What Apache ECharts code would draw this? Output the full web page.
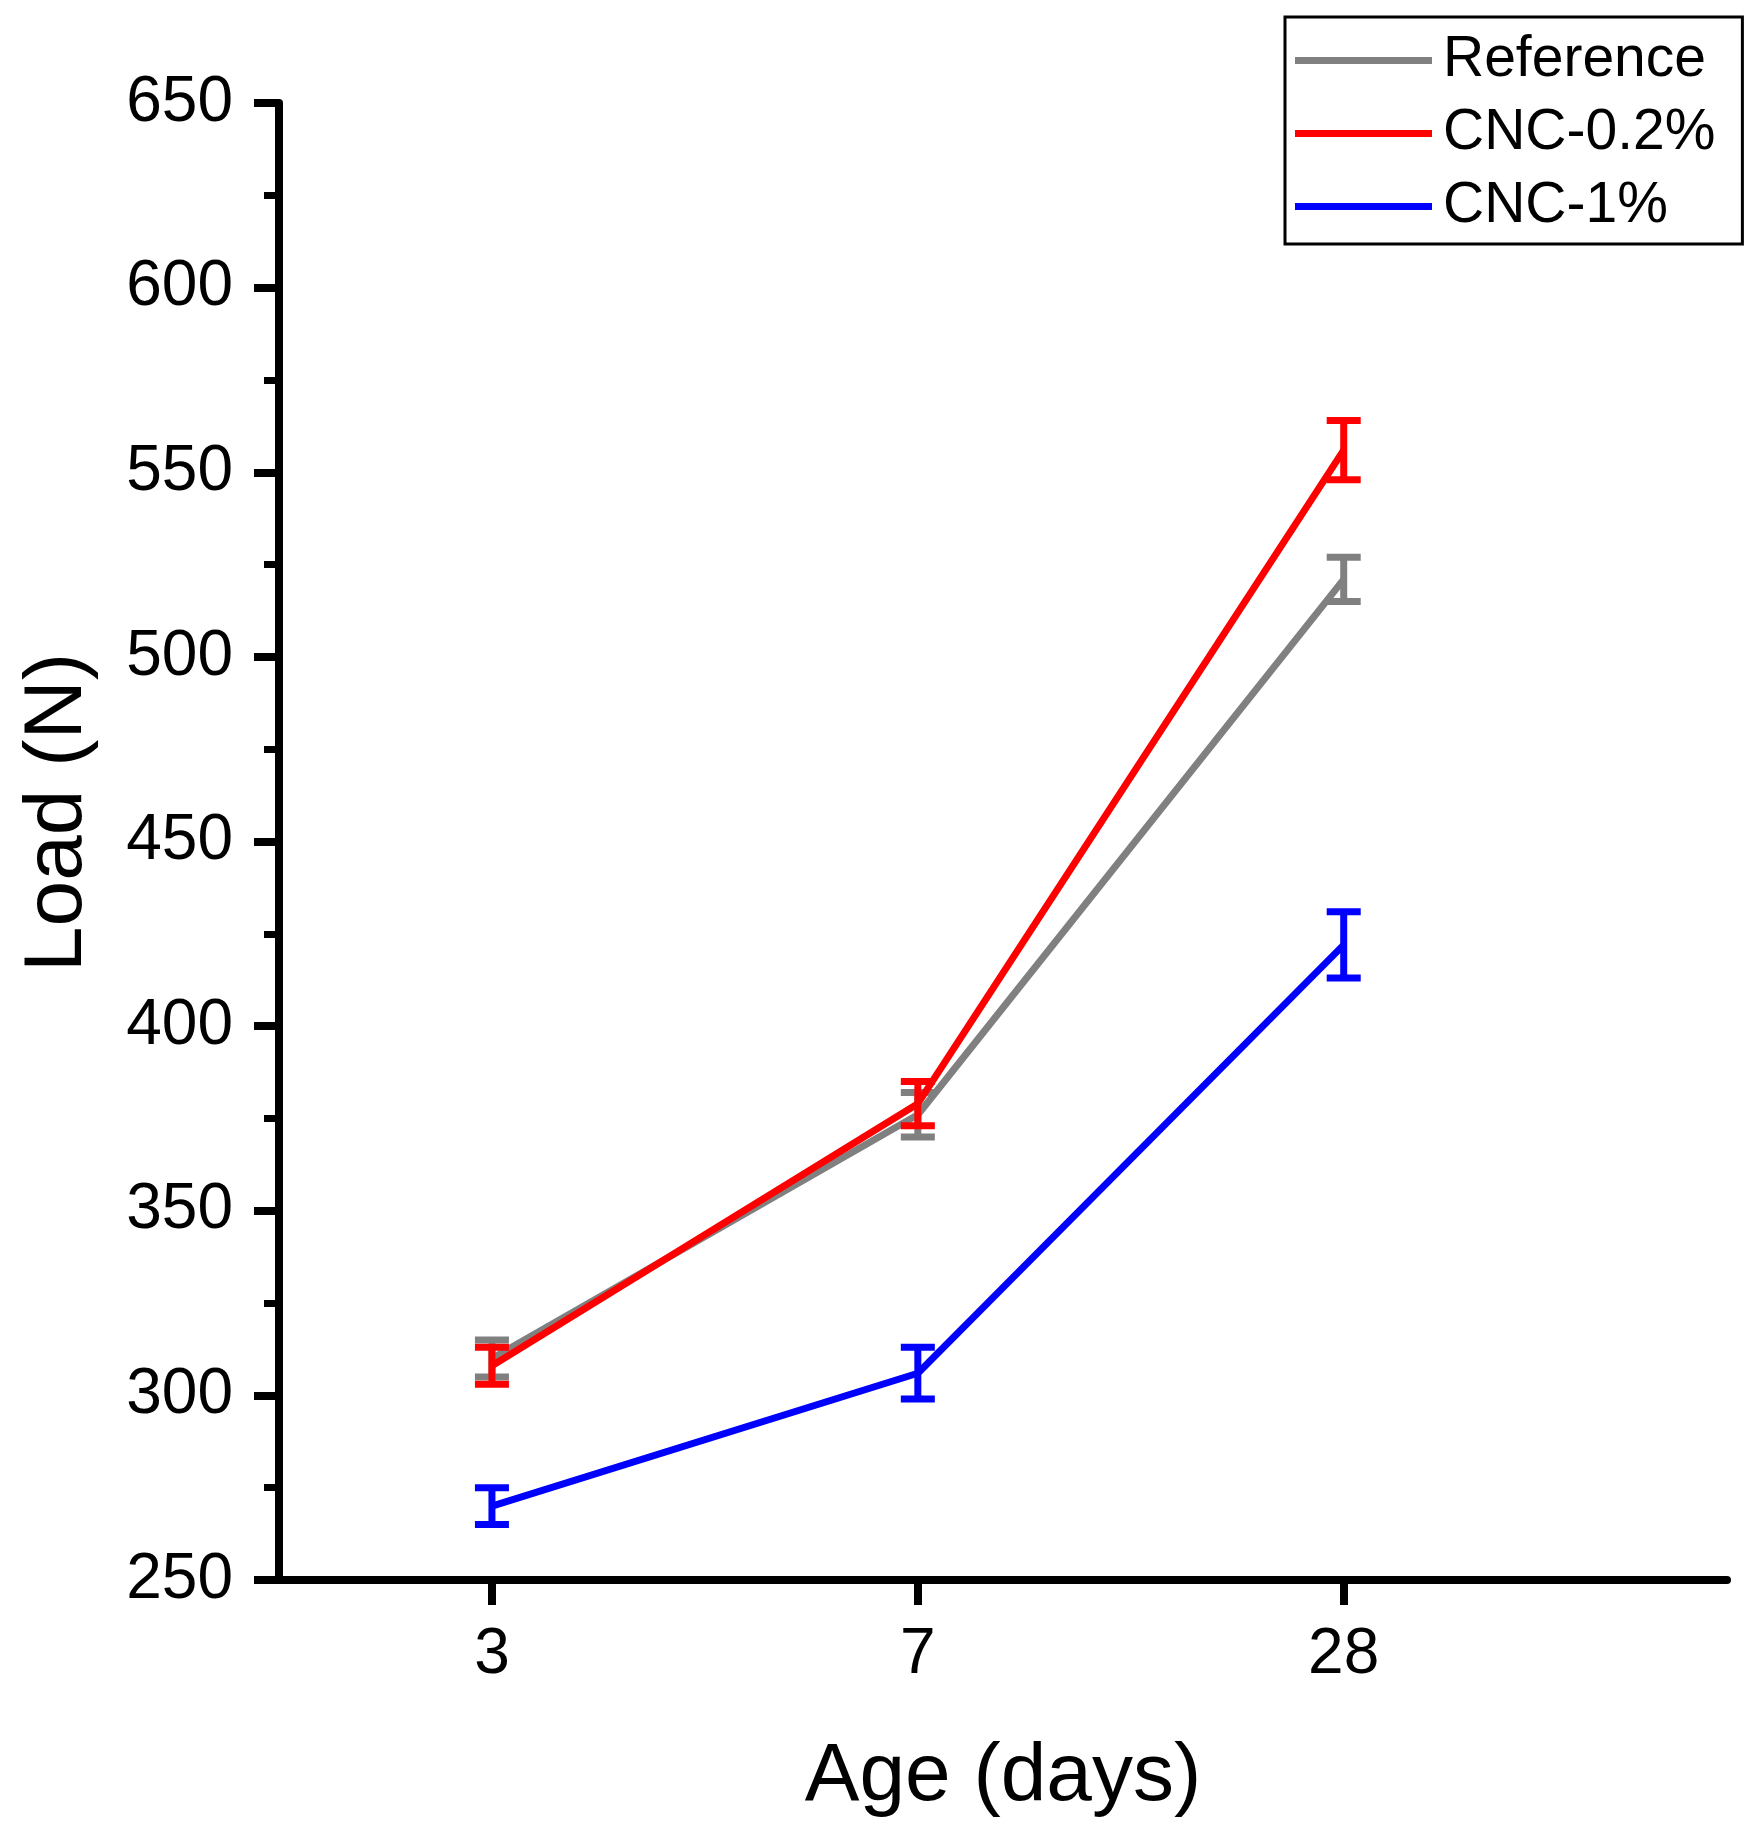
<!DOCTYPE html>
<html>
<head>
<meta charset="utf-8">
<script src="https://cdn.jsdelivr.net/npm/echarts@6/dist/echarts.min.js"></script>
<style>
html,body{margin:0;padding:0;background:#fff;}
#chart{width:1760px;height:1831px;}
</style>
</head>
<body>
<div id="chart"></div>
<script>
const days = ['3', '7', '28'];
const seriesNames = ['Reference', 'CNC-0.2%', 'CNC-1%'];
const refLoad = [310, 376, 521];
const refErr = [5, 6, 6];
const cnc02Load = [308, 379, 556];
const cnc02Err = [5, 6, 8];
const cnc1Load = [270, 306, 422];
const cnc1Err = [5, 7, 9];
const yTicks = [250, 300, 350, 400, 450, 500, 550, 600, 650];

const colors = ['#808080', '#ff0000', '#0000ff'];
const loads = [refLoad, cnc02Load, cnc1Load];
const errs = [refErr, cnc02Err, cnc1Err];
const FONT = 'Liberation Sans, Arial, sans-serif';

const series = [];
loads.forEach((vals, k) => {
  series.push({
    name: seriesNames[k],
    type: 'line',
    data: vals.map((v, i) => [i, v]),
    symbol: 'none',
    lineStyle: { color: colors[k], width: 7 },
    itemStyle: { color: colors[k] },
    z: 2 + k * 2
  });
  series.push({
    name: seriesNames[k] + ' err',
    type: 'custom',
    data: vals.map((v, i) => [i, v, v - errs[k][i], v + errs[k][i]]),
    z: 3 + k * 2,
    renderItem: function (params, api) {
      const x = api.value(0);
      const lo = api.coord([x, api.value(2)]);
      const hi = api.coord([x, api.value(3)]);
      const half = 17;
      const st = { stroke: colors[k], lineWidth: 7 };
      return {
        type: 'group',
        children: [
          { type: 'line', shape: { x1: lo[0], y1: lo[1], x2: hi[0], y2: hi[1] }, style: st },
          { type: 'line', shape: { x1: lo[0] - half, y1: lo[1], x2: lo[0] + half, y2: lo[1] }, style: st },
          { type: 'line', shape: { x1: hi[0] - half, y1: hi[1], x2: hi[0] + half, y2: hi[1] }, style: st }
        ]
      };
    }
  });
});

const chart = echarts.init(document.getElementById('chart'));
chart.setOption({
  backgroundColor: '#fff',
  animation: false,
  grid: { left: 279, right: 33, top: 103, bottom: 251 },
  legend: {
    data: seriesNames,
    orient: 'vertical',
    left: 1285,
    top: 17,
    itemWidth: 137,
    itemHeight: 7,
    itemGap: 16,
    padding: [15, 27, 9, 10],
    borderColor: '#000',
    borderWidth: 3,
    icon: 'rect',
    itemStyle: { borderWidth: 0 },
    textStyle: { fontSize: 57, fontFamily: FONT, color: '#000', padding: [0, 0, 0, 6] }
  },
  xAxis: {
    type: 'value',
    min: -0.5,
    max: 2.9,
    name: 'Age (days)',
    nameLocation: 'middle',
    nameGap: 156,
    nameTextStyle: { fontSize: 82, fontFamily: FONT, color: '#000' },
    axisLine: { show: true, onZero: false, lineStyle: { color: '#000', width: 8 } },
    axisTick: { show: true, customValues: [0, 1, 2], length: 25, lineStyle: { color: '#000', width: 8 } },
    axisLabel: {
      customValues: [0, 1, 2],
      formatter: v => days[Math.round(v)],
      fontSize: 64, fontFamily: FONT, color: '#000', margin: 43
    },
    splitLine: { show: false }
  },
  yAxis: {
    type: 'value',
    min: yTicks[0],
    max: yTicks[yTicks.length - 1],
    interval: 50,
    name: 'Load (N)',
    nameLocation: 'middle',
    nameGap: 180,
    nameTextStyle: { fontSize: 82, fontFamily: FONT, color: '#000', padding: [0, 0, 0, 58] },
    axisLine: { show: true, onZero: false, lineStyle: { color: '#000', width: 8 } },
    axisTick: { show: true, length: 25, lineStyle: { color: '#000', width: 8 } },
    minorTick: { show: true, splitNumber: 2, length: 15, lineStyle: { color: '#000', width: 7 } },
    axisLabel: { fontSize: 64, fontFamily: FONT, color: '#000', margin: 46 },
    splitLine: { show: false }
  },
  series: series
});
</script>
</body>
</html>
